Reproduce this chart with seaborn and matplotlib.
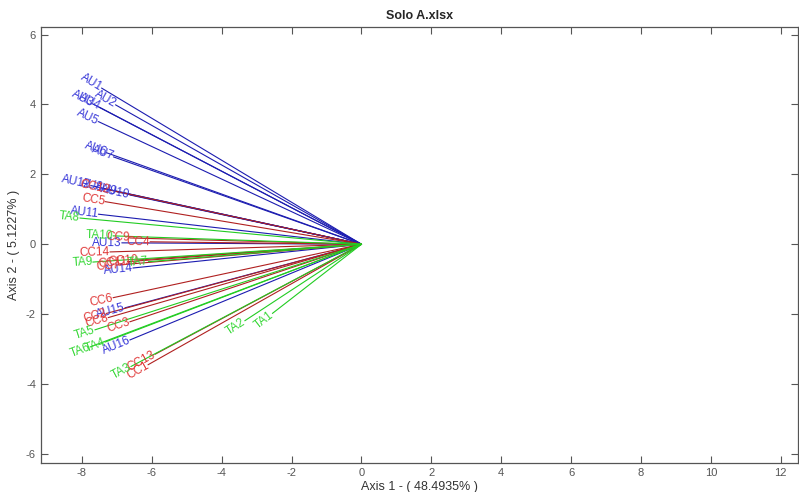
import numpy as np
import pandas as pd
import matplotlib
matplotlib.use("Agg")
import matplotlib.pyplot as plt
import seaborn as sns

# loadings (end points of each vector)
au_labels = ["AU1", "AU2", "AU3", "AU4", "AU5", "AU6", "AU7", "AU8",
             "AU9", "AU10", "AU11", "AU12", "AU13", "AU14", "AU15", "AU16"]
au_x = [-7.44, -7.04, -7.70, -7.50, -7.53, -7.30, -7.10, -7.40,
        -7.00, -6.63, -7.53, -7.75, -6.86, -6.54, -6.77, -6.63]
au_y = [4.47, 3.99, 4.02, 3.92, 3.51, 2.62, 2.50, 1.60,
        1.50, 1.41, 0.86, 1.68, 0.04, -0.68, -1.82, -2.74]

cc_labels = ["CC1", "CC2", "CC3", "CC4", "CC5", "CC6", "CC7",
             "CC8", "CC9", "CC10", "CC11", "CC12", "CC13", "CC14"]
cc_x = [-6.11, -7.30, -6.63, -6.05, -7.34, -7.11, -6.91,
        -7.25, -6.63, -6.40, -6.70, -7.20, -5.91, -7.20]
cc_y = [-3.45, -1.98, -2.22, 0.07, 1.22, -1.53, -0.59,
        -2.10, 0.18, -0.45, -0.50, 1.55, -3.15, -0.22]

ta_labels = ["TA1", "TA2", "TA3", "TA4", "TA5", "TA6", "TA7", "TA8", "TA9", "TA10"]
ta_x = [-2.55, -3.34, -6.60, -7.34, -7.63, -7.77, -6.10, -8.06, -7.69, -7.11]
ta_y = [-1.98, -2.19, -3.50, -2.80, -2.45, -2.94, -0.50, 0.75, -0.51, 0.24]

line_colors = {"AU": "#1c1cb0", "CC": "#b02020", "TA": "#22cc22"}
text_colors = {"AU": "#3838d8", "CC": "#e03838", "TA": "#3ad83a"}

# build a long table: origin + end point for every vector
rows = []
for grp, labs, xs, ys in [("AU", au_labels, au_x, au_y),
                          ("CC", cc_labels, cc_x, cc_y),
                          ("TA", ta_labels, ta_x, ta_y)]:
    for lab, x, y in zip(labs, xs, ys):
        rows.append({"label": lab, "group": grp, "x": 0.0, "y": 0.0, "order": 0})
        rows.append({"label": lab, "group": grp, "x": x, "y": y, "order": 1})
df = pd.DataFrame(rows)

sns.set_style("ticks")
plt.rcParams["font.family"] = ["Liberation Sans Narrow", "Liberation Sans", "DejaVu Sans"]
plt.rcParams["axes.unicode_minus"] = False

fig = plt.figure(figsize=(7.99, 4.92), dpi=100)
ax = fig.add_axes([0.051, 0.0583, 0.948, 0.887])

sns.lineplot(data=df, x="x", y="y", hue="group", units="label", estimator=None,
             sort=False, palette=line_colors, linewidth=0.8, legend=False, ax=ax)

ends = df[df["order"] == 1]
for _, r in ends.iterrows():
    ang = np.degrees(np.arctan(r["y"] / r["x"]))
    ax.text(r["x"], r["y"], r["label"], color=text_colors[r["group"]],
            fontsize=8.5, rotation=ang, rotation_mode="anchor",
            ha="right", va="center")

ax.set_xlim(-9.18, 12.5)
ax.set_ylim(-6.27, 6.22)
ax.set_xticks(np.arange(-8, 13, 2))
ax.set_yticks(np.arange(-6, 7, 2))
ax.tick_params(direction="in", length=5, width=0.8, color="#555555",
               labelcolor="#555555", labelsize=8, top=True, right=True)
for sp in ax.spines.values():
    sp.set_color("#555555")
    sp.set_linewidth(0.9)

ax.set_title("Solo A.xlsx", fontsize=9, fontweight="bold", pad=6)
ax.set_xlabel("Axis 1 - ( 48.4935% )", fontsize=9, color="#333333", labelpad=2)
ax.set_ylabel("Axis 2 - ( 5.1227% )", fontsize=9, color="#333333", labelpad=4)

fig.savefig("out.png", dpi=100)
